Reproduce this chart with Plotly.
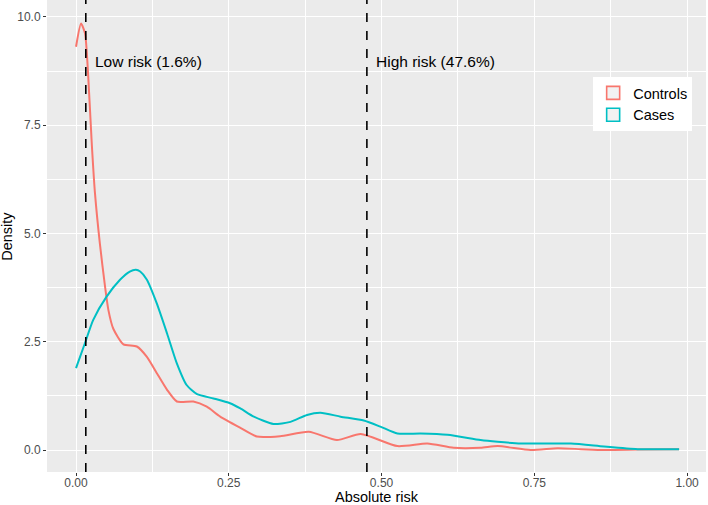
import plotly.graph_objects as go

# Controls density curve
controls_x = [0.0, 0.0082, 0.0147, 0.020, 0.0257, 0.031, 0.039, 0.0475, 0.053, 0.061, 0.0776, 0.0995, 0.116, 0.132,
              0.149, 0.165, 0.192, 0.214, 0.236, 0.269, 0.296, 0.334, 0.381, 0.427, 0.466, 0.526, 0.575, 0.618,
              0.662, 0.69, 0.744, 0.788, 0.826, 0.864, 0.92, 0.987]
controls_y = [9.31, 9.85, 9.62, 8.62, 7.09, 5.93, 4.77, 3.77, 3.23, 2.80, 2.44, 2.39, 2.15, 1.78,
              1.39, 1.12, 1.12, 1.0, 0.77, 0.51, 0.31, 0.32, 0.42, 0.23, 0.37, 0.09, 0.15, 0.05,
              0.05, 0.09, 0.0, 0.04, 0.02, 0.0, 0.01, 0.02]

# Cases density curve
cases_x = [0.0, 0.0147, 0.028, 0.050, 0.072, 0.088, 0.098, 0.105, 0.116, 0.132, 0.149, 0.165, 0.181, 0.198,
           0.225, 0.252, 0.269, 0.291, 0.323, 0.351, 0.378, 0.40, 0.433, 0.471, 0.498, 0.526, 0.564,
           0.608, 0.662, 0.69, 0.728, 0.81, 0.864, 0.919, 0.987]
cases_y = [1.89, 2.47, 3.0, 3.54, 3.93, 4.12, 4.16, 4.12, 3.93, 3.39, 2.69, 2.0, 1.50, 1.29,
           1.19, 1.08, 0.96, 0.77, 0.60, 0.65, 0.81, 0.86, 0.77, 0.68, 0.54, 0.38, 0.38,
           0.35, 0.23, 0.19, 0.15, 0.15, 0.08, 0.02, 0.02]

series_names = ["Controls", "Cases"]
series_colors = ["#F8766D", "#00BFC4"]

thresholds = [0.016, 0.476]
threshold_labels = ["Low risk (1.6%)", "High risk (47.6%)"]
label_y = 8.96

x_ticks = [0.0, 0.25, 0.5, 0.75, 1.0]
x_ticktext = ["0.00", "0.25", "0.50", "0.75", "1.00"]
y_ticks = [0.0, 2.5, 5.0, 7.5, 10.0]
y_ticktext = ["0.0", "2.5", "5.0", "7.5", "10.0"]

FONT = "Liberation Sans, Arial, sans-serif"

fig = go.Figure()
for xs, ys, name, col in [(controls_x, controls_y, series_names[0], series_colors[0]),
                          (cases_x, cases_y, series_names[1], series_colors[1])]:
    fig.add_trace(go.Scatter(x=xs, y=ys, mode="lines", line=dict(color=col, width=2, shape="spline", smoothing=0.6),
                             showlegend=False, hoverinfo="skip"))
# legend keys
for name, col in zip(series_names, series_colors):
    fig.add_trace(go.Scatter(x=[None], y=[None], mode="markers", name=name,
                             marker=dict(symbol="square", size=13, color="#F2F2F2", line=dict(color=col, width=1.6))))

for t, lab in zip(thresholds, threshold_labels):
    fig.add_shape(type="line", xref="x", yref="paper", x0=t, x1=t, y0=0, y1=1,
                  line=dict(color="black", width=1.6, dash="dash"))
    fig.add_annotation(x=t, y=label_y, xref="x", yref="y", text=lab, showarrow=False,
                       xanchor="left", yanchor="middle", xshift=7,
                       font=dict(family=FONT, size=15.5, color="black"))

# axis titles
fig.add_annotation(x=0.5, y=-0.052, xref="paper", yref="paper", text="Absolute risk", showarrow=False,
                   xanchor="center", yanchor="middle", borderpad=0,
                   font=dict(family=FONT, size=14.5, color="black"))
fig.add_annotation(x=-0.061, y=0.5, xref="paper", yref="paper", text="Density", showarrow=False, textangle=-90,
                   xanchor="center", yanchor="middle", font=dict(family=FONT, size=14.5, color="black"))

xr = [-0.0475, 1.031]
yr = [-0.508, 10.39]

fig.update_layout(
    width=708, height=505,
    margin=dict(l=47, r=2, t=0, b=33),
    paper_bgcolor="white", plot_bgcolor="#EBEBEB",
    font=dict(family=FONT, size=12, color="#4D4D4D"),
    legend=dict(x=0.979, y=0.837, xanchor="right", yanchor="top", bgcolor="white",
                font=dict(family=FONT, size=14.5, color="black"), itemwidth=30,
                tracegroupgap=0),
    xaxis=dict(range=xr, tickvals=x_ticks, ticktext=x_ticktext, showgrid=True, gridcolor="white", gridwidth=1.2,
               zeroline=False, ticks="outside", ticklen=3, tickcolor="#333333", showline=False, automargin=False,
               tickfont=dict(size=12, color="#4D4D4D"), ticklabelstandoff=-3,
               minor=dict(tickvals=[0.125, 0.375, 0.625, 0.875], showgrid=True, gridcolor="white", gridwidth=0.6, ticks="")),
    yaxis=dict(range=yr, tickvals=y_ticks, ticktext=y_ticktext, showgrid=True, gridcolor="white", gridwidth=1.2,
               zeroline=False, ticks="outside", ticklen=3, tickcolor="#333333", showline=False, automargin=False,
               tickfont=dict(size=12, color="#4D4D4D"),
               minor=dict(tickvals=[1.25, 3.75, 6.25, 8.75], showgrid=True, gridcolor="white", gridwidth=0.6, ticks="")),
)

fig.write_html("out.html", config={"displayModeBar": False},
               post_script="document.body.style.margin='0';document.body.style.overflow='hidden';")
